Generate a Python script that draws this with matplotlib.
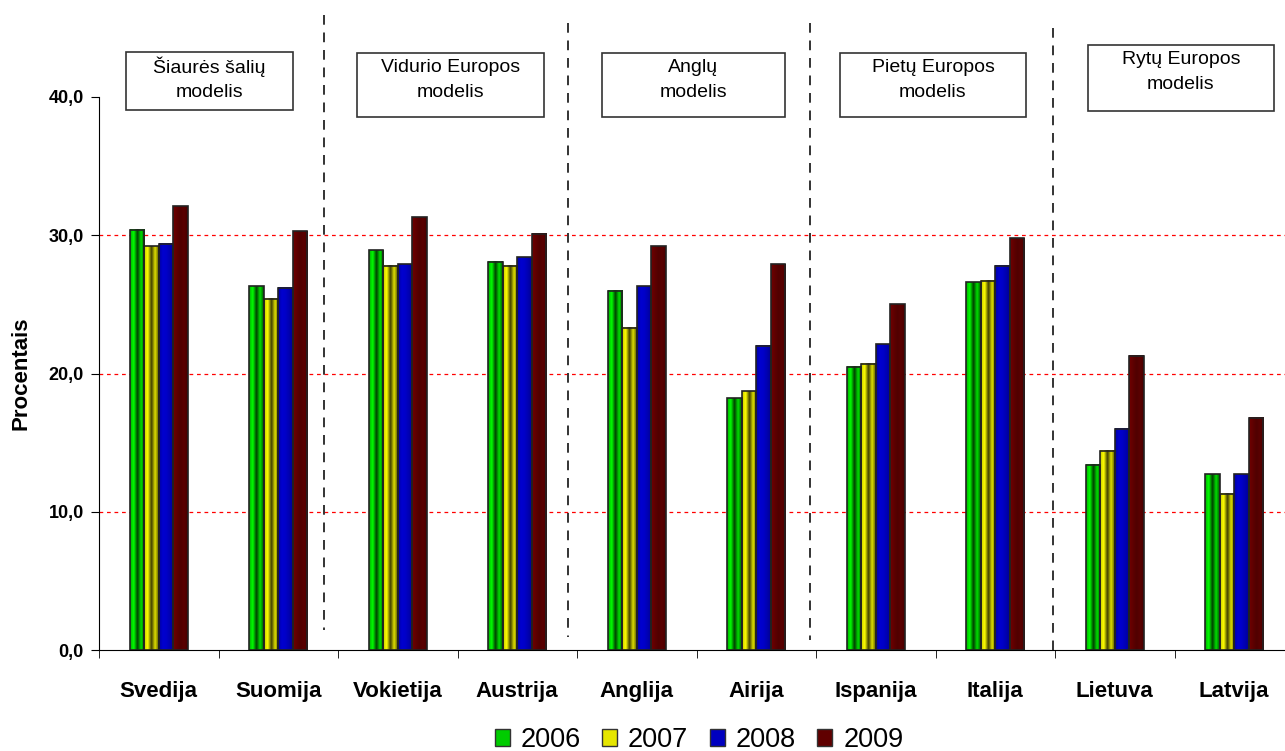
import numpy as np
import matplotlib.pyplot as plt
from matplotlib.patches import Rectangle, Patch
from matplotlib.colors import LinearSegmentedColormap

plt.rcParams['font.family'] = ['Liberation Sans', 'DejaVu Sans']

countries = ['Svedija', 'Suomija', 'Vokietija', 'Austrija', 'Anglija',
             'Airija', 'Ispanija', 'Italija', 'Lietuva', 'Latvija']
years = ['2006', '2007', '2008', '2009']
v2006 = [30.4, 26.3, 28.9, 28.1, 26.0, 18.2, 20.5, 26.6, 13.4, 12.7]
v2007 = [29.2, 25.4, 27.8, 27.8, 23.3, 18.7, 20.7, 26.7, 14.4, 11.3]
v2008 = [29.4, 26.2, 27.9, 28.4, 26.3, 22.0, 22.1, 27.8, 16.0, 12.7]
v2009 = [32.1, 30.3, 31.3, 30.1, 29.2, 27.9, 25.0, 29.8, 21.3, 16.8]
series = [v2006, v2007, v2008, v2009]
models = ['Šiaurės šalių\nmodelis', 'Vidurio Europos\nmodelis', 'Anglų\nmodelis',
          'Pietų Europos\nmodelis', 'Rytų Europos\nmodelis']

# horizontal shading across each bar (cylinder-like look)
shades = [
    ['#00b000', '#00ff00', '#003c00', '#00e000', '#005000'],
    ['#c8c800', '#ffff00', '#3c3c00', '#e0e000', '#505000'],
    ['#0000a0', '#0000d0', '#0000c8', '#0000b0', '#000090'],
    ['#700000', '#600000', '#500000', '#5a0000', '#480000'],
]
legend_colors = ['#00cc00', '#e6e600', '#0000c0', '#600000']

fig = plt.figure(figsize=(12.85, 7.51), dpi=100)
ax = fig.add_axes([99 / 1285, 1 - 650 / 751, 1195 / 1285, 553 / 751])

x = np.arange(len(countries))
bw = 0.122
grad = np.linspace(0, 1, 64).reshape(1, -1)
for i, vals in enumerate(series):
    cmap = LinearSegmentedColormap.from_list('s%d' % i, shades[i])
    for j, v in enumerate(vals):
        x0 = x[j] - 2 * bw + i * bw
        ax.imshow(grad, cmap=cmap, aspect='auto', extent=(x0, x0 + bw, 0, v),
                  zorder=3, interpolation='bilinear')
        ax.add_patch(Rectangle((x0, 0), bw, v, fill=False, edgecolor='#222222',
                               linewidth=1.2, zorder=4))

ax.set_xlim(-0.5, len(countries) - 0.5)
ax.set_ylim(0, 40)
for yv in [10, 20, 30]:
    ax.axhline(yv, color='red', linestyle=(0, (3, 3)), linewidth=0.9, zorder=1)

ax.set_yticks([0, 10, 20, 30, 40])
ax.set_yticklabels(['0,0', '10,0', '20,0', '30,0', '40,0'], fontsize=13, fontweight='bold')
ax.set_xticks(x)
ax.set_xticklabels(countries, fontsize=16, fontweight='bold')
ax.set_xticks(np.arange(len(countries) + 1) - 0.5, minor=True)
ax.tick_params(axis='x', which='major', length=0, pad=22)
ax.tick_params(axis='x', which='minor', length=6, direction='out')
ax.tick_params(axis='y', length=6, direction='out', pad=5)
ax.set_ylabel('Procentais', fontsize=16, fontweight='bold', labelpad=12)
for s in ['top', 'right']:
    ax.spines[s].set_visible(False)

# dashed separators between the models
for xpix, ytop, ybot in [(324, 15, 630), (568, 23, 637), (810, 23, 640), (1053, 28, 650)]:
    fig.add_artist(plt.Line2D([xpix / 1285, xpix / 1285], [1 - ytop / 751, 1 - ybot / 751],
                              color='#333333', linestyle=(0, (5, 4)), linewidth=1.4))

# model label boxes: (left, top, right, bottom, text centre) in pixels
boxes = [(126, 52, 293, 110, 79), (357, 53, 544, 117, 80), (602, 53, 785, 117, 80),
         (840, 53, 1026, 117, 80), (1088, 45, 1274, 111, 72)]
for (l, t, r, b, yc), name in zip(boxes, models):
    fig.add_artist(Rectangle((l / 1285, 1 - b / 751), (r - l) / 1285, (b - t) / 751,
                             transform=fig.transFigure, fill=False,
                             edgecolor='#333333', linewidth=1.2))
    fig.text((l + r) / 2 / 1285, 1 - yc / 751, name, ha='center', va='center',
             fontsize=14, linespacing=1.55)

handles = [Patch(facecolor=c, edgecolor='#333333') for c in legend_colors]
fig.legend(handles, years, loc='center', bbox_to_anchor=(699 / 1285, 1 - 740 / 751),
           ncol=4, frameon=False, fontsize=19.5, handlelength=0.55, handleheight=0.55,
           handletextpad=0.4, columnspacing=0.8, borderpad=0.1)

fig.savefig('out.png', dpi=100)
